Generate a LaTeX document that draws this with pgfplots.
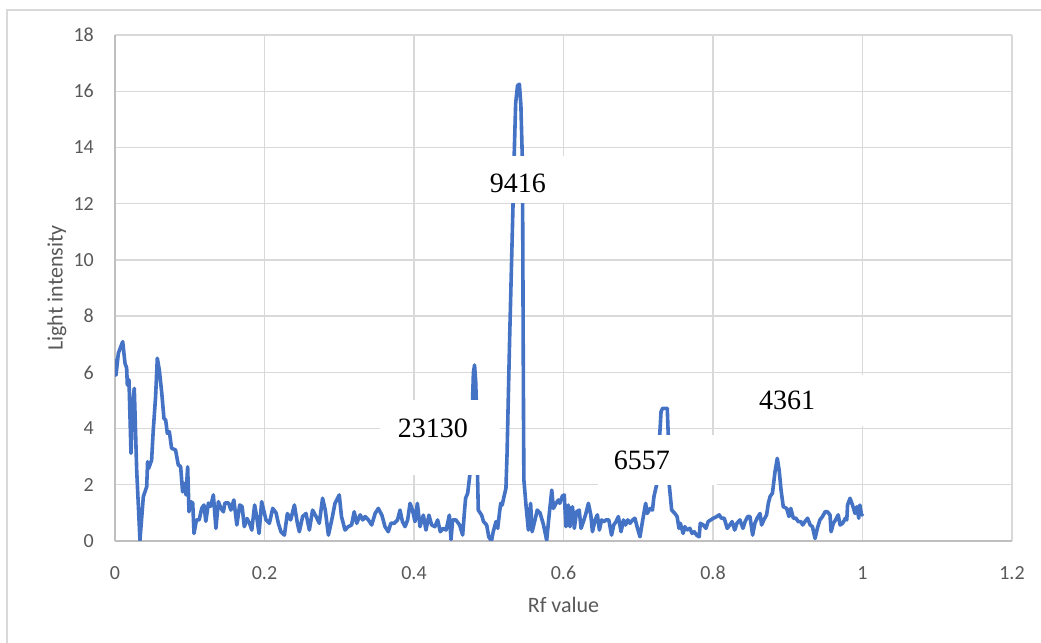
\documentclass[border=0pt]{standalone}
\usepackage{fontspec}
\setmainfont{Carlito}
\newfontfamily\timesfont{Liberation Serif}
\usepackage{pgfplots}
\usepackage{pgfplotstable}
\pgfplotsset{compat=1.18}
\definecolor{excelblue}{HTML}{4472C4}
\definecolor{gridgray}{HTML}{D9D9D9}
\definecolor{axgray}{HTML}{BFBFBF}
\definecolor{txtgray}{HTML}{595959}

\pgfplotstableread{
x y
0 6.44
0.0013 5.9
0.0045 6.68
0.0103 7.09
0.0134 6.32
0.0156 6.15
0.0165 5.55
0.0187 5.73
0.0214 3.12
0.0236 4.9
0.0258 5.43
0.029 2.53
0.0334 0.03
0.0379 1.58
0.0424 1.93
0.0436 2.82
0.045 2.58
0.049 2.88
0.0512 3.95
0.0543 5.13
0.0566 6.5
0.0593 6.08
0.0624 5.31
0.0655 4.36
0.0678 4.3
0.07 3.83
0.0727 3.89
0.0757 3.3
0.081 3.24
0.0847 2.7
0.0878 2.65
0.0904 1.75
0.0922 2.05
0.095 1.64
0.0972 2.64
0.099 1.04
0.101 1.4
0.104 1.35
0.1057 0.27
0.109 0.75
0.1126 0.75
0.116 1.16
0.119 1.28
0.1215 0.7
0.125 1.35
0.128 1.23
0.1316 1.64
0.135 0.45
0.1383 1.4
0.1418 1.16
0.145 1.04
0.147 1.35
0.152 1.35
0.155 1.1
0.159 1.46
0.163 0.57
0.1668 1.28
0.17 1.23
0.173 0.51
0.1766 0.8
0.18 0.63
0.183 0.39
0.1868 1.28
0.1895 0.87
0.1927 0.27
0.1962 1.4
0.202 0.75
0.2065 0.63
0.211 1.16
0.2155 1.0
0.2185 0.63
0.222 0.33
0.2266 0.21
0.2306 0.98
0.235 0.75
0.24 1.28
0.244 0.63
0.2466 0.33
0.251 0.87
0.2555 0.98
0.26 0.39
0.2643 1.1
0.269 0.87
0.2733 0.63
0.2777 1.52
0.2813 1.1
0.2855 0.21
0.29 0.75
0.2943 1.34
0.3 1.64
0.303 0.87
0.3077 0.39
0.312 0.51
0.3165 0.57
0.32 1.04
0.3234 0.63
0.328 0.93
0.3315 0.75
0.3346 0.87
0.339 0.75
0.3434 0.57
0.348 0.98
0.3523 1.16
0.357 0.92
0.3612 0.51
0.3656 0.33
0.369 0.63
0.3735 0.63
0.378 0.75
0.3813 1.1
0.3845 0.69
0.388 0.51
0.3915 0.75
0.3947 1.34
0.398 1.1
0.4013 0.69
0.4045 1.34
0.408 0.51
0.4125 0.92
0.416 0.39
0.42 0.92
0.4236 0.57
0.428 0.51
0.4316 0.75
0.4352 0.33
0.439 0.45
0.443 0.39
0.4473 0.92
0.4495 0.05
0.4517 0.75
0.456 0.75
0.461 0.57
0.4651 0.21
0.4673 0.98
0.469 1.52
0.4718 1.7
0.475 2.41
0.4775 4.3
0.4795 6.0
0.481 6.26
0.4825 5.7
0.4838 4.6
0.485 2.35
0.486 1.1
0.4905 0.92
0.493 0.69
0.4972 0.57
0.5 0.15
0.5036 0.0
0.506 0.33
0.5097 0.69
0.512 0.45
0.514 0.92
0.516 1.34
0.518 1.28
0.5204 1.58
0.523 1.88
0.5245 3.12
0.528 7.27
0.5325 12.0
0.534 13.7
0.536 15.57
0.5385 16.2
0.541 16.25
0.543 15.5
0.5448 13.7
0.5455 11.0
0.546 7.5
0.5466 4.0
0.547 2.17
0.55 1.22
0.553 0.39
0.556 1.34
0.558 0.33
0.5619 0.75
0.5649 1.1
0.5686 1.0
0.573 0.6
0.5775 0.03
0.581 0.98
0.5843 1.81
0.5865 1.16
0.59 1.34
0.5932 1.46
0.595 1.34
0.5985 1.6
0.601 1.64
0.6033 0.51
0.6065 1.28
0.6087 0.51
0.612 1.22
0.6145 0.45
0.6175 1.04
0.621 1.1
0.6235 0.45
0.6266 0.69
0.63 0.98
0.6333 1.34
0.6365 0.93
0.6387 0.33
0.6423 0.75
0.6453 0.93
0.648 0.39
0.651 0.75
0.654 0.69
0.657 0.75
0.6606 0.75
0.6643 0.21
0.6672 0.57
0.6703 0.69
0.6734 0.87
0.677 0.33
0.6802 0.75
0.683 0.57
0.686 0.75
0.689 0.63
0.6925 0.75
0.6955 0.81
0.699 0.45
0.7023 0.15
0.706 0.75
0.7099 1.34
0.712 0.98
0.716 1.16
0.719 1.1
0.721 1.58
0.7245 1.99
0.7275 3.2
0.7305 4.6
0.7326 4.72
0.7388 4.72
0.7405 3.5
0.7415 1.99
0.7447 1.1
0.749 0.98
0.752 0.87
0.7545 0.45
0.7563 0.63
0.76 0.27
0.7623 0.51
0.765 0.39
0.769 0.45
0.772 0.27
0.775 0.33
0.778 0.21
0.7815 0.15
0.783 0.63
0.787 0.57
0.7905 0.45
0.7935 0.69
0.797 0.75
0.8004 0.81
0.805 0.87
0.8083 0.93
0.8113 0.81
0.815 0.81
0.819 0.45
0.8225 0.57
0.8256 0.69
0.829 0.39
0.832 0.63
0.836 0.75
0.84 0.45
0.843 0.69
0.8463 0.87
0.8495 0.87
0.853 0.21
0.856 0.63
0.859 0.81
0.8629 0.98
0.865 0.57
0.868 0.75
0.8717 0.93
0.874 1.34
0.8763 1.58
0.8795 1.7
0.883 2.47
0.886 2.94
0.8885 2.52
0.891 1.82
0.894 1.22
0.8985 1.16
0.9016 0.87
0.904 1.16
0.9075 0.81
0.911 0.81
0.914 0.69
0.9175 0.69
0.92 0.57
0.923 0.69
0.9265 0.81
0.93 0.57
0.933 0.51
0.9365 0.09
0.9396 0.45
0.943 0.75
0.9465 0.87
0.95 1.04
0.953 1.04
0.9565 0.93
0.958 0.33
0.961 0.63
0.964 0.75
0.9675 0.93
0.97 0.57
0.9735 0.63
0.977 0.81
0.979 0.75
0.98 1.28
0.9833 1.52
0.9866 1.28
0.99 0.98
0.9925 1.22
0.995 0.81
0.9965 1.28
0.9987 0.93
1.0 0.93
}\datatable

\begin{document}
\begin{tikzpicture}
\useasboundingbox (0,0) rectangle (1041bp,643bp);
\fill[white] (0,0) rectangle (1041bp,643bp);
\draw[gridgray, line width=1.3bp] (7bp,-5bp) -- (7bp,633bp) -- (1050bp,633bp);
\begin{axis}[
  at={(115bp,102bp)}, anchor=south west,
  scale only axis, width=897bp, height=506bp,
  xmin=0, xmax=1.2, ymin=0, ymax=18,
  xtick={0,0.2,0.4,0.6,0.8,1,1.2},
  xticklabels={0,0.2,0.4,0.6,0.8,1,1.2},
  ytick={0,2,4,6,8,10,12,14,16,18},
  yticklabels={0,2,4,6,8,10,12,14,16,18},
  axis lines=left,
  axis line style={-, draw=axgray, line width=1.3bp},
  grid=major,
  grid style={draw=gridgray, line width=1.3bp},
  major tick length=0pt,
  /pgf/number format/assume math mode=true,
  tick label style={font=\fontsize{20bp}{24bp}\selectfont, text=txtgray},
  yticklabel style={anchor=east, inner sep=0pt, xshift=-21bp},
  xticklabel style={anchor=north, inner sep=0pt, yshift=-25bp},
  xlabel={Rf value}, ylabel={Light intensity},
  every axis x label/.style={at={(axis description cs:0.5,-0.1265)}, anchor=center, font=\fontsize{22bp}{26bp}\selectfont, text=txtgray},
  every axis y label/.style={at={(axis description cs:-0.0647,0.5)}, rotate=90, anchor=center, font=\fontsize{22bp}{26bp}\selectfont, text=txtgray},
]
\addplot[color=excelblue, line width=3.6bp, line join=round, line cap=round, no marks] table[x=x, y=y] {\datatable};
\fill[white] (axis cs:0.4589,12.02) rectangle (axis cs:0.6194,13.70);
\fill[white] (axis cs:0.3545,2.348) rectangle (axis cs:0.5151,5.016);
\fill[white] (axis cs:0.6462,1.992) rectangle (axis cs:0.8054,3.771);
\fill[white] (axis cs:0.804,4.091) rectangle (axis cs:1.0047,5.905);
\node[font=\timesfont\fontsize{28bp}{30bp}\selectfont, text=black] at (axis cs:0.5391,12.735) {9416};
\node[font=\timesfont\fontsize{28bp}{30bp}\selectfont, text=black] at (axis cs:0.4254,4.020) {23130};
\node[font=\timesfont\fontsize{28bp}{30bp}\selectfont, text=black] at (axis cs:0.7050,2.881) {6557};
\node[font=\timesfont\fontsize{28bp}{30bp}\selectfont, text=black] at (axis cs:0.8990,5.016) {4361};
\end{axis}
\end{tikzpicture}
\end{document}
